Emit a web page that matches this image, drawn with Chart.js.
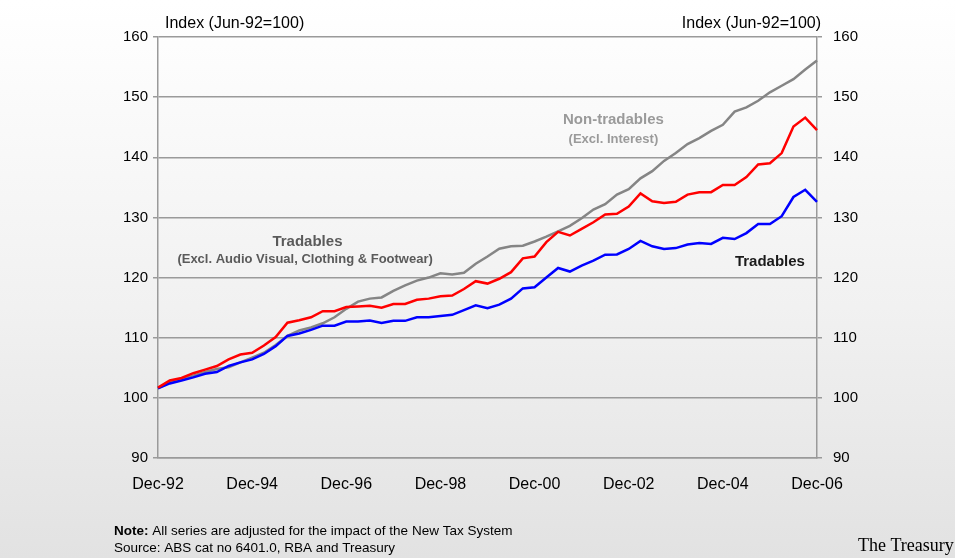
<!DOCTYPE html>
<html>
<head>
<meta charset="utf-8">
<script src="https://cdn.jsdelivr.net/npm/chart.js@4.4.0/dist/chart.umd.min.js"></script>
<style>
  html, body { margin: 0; padding: 0; }
  body {
    width: 955px; height: 558px; overflow: hidden;
    background: linear-gradient(to bottom, #ffffff 0%, #f1f1f1 55%, #e2e2e2 100%);
  }
  canvas { display: block; }
</style>
</head>
<body>
<canvas id="myChart" width="955" height="558"></canvas>
<script>
// data, quarterly, Dec-92 to Dec-06
const quarters = [];
const years = ["92", "93", "94", "95", "96", "97", "98", "99", "00", "01", "02", "03", "04", "05", "06"];
const months = ["Mar", "Jun", "Sep", "Dec"];
quarters.push("Dec-92");
for (let y = 1; y < years.length; y++) {
     for (let m = 0; m < months.length; m++) {
          quarters.push(months[m] + "-" + years[y]);
     }
}

const tradablesExcl = [
     101.7, 102.9, 103.3, 104.1, 104.7, 105.3, 106.4, 107.2, 107.5, 108.7,
     110.1, 112.5, 112.9, 113.4, 114.4, 114.4, 115.1, 115.2, 115.3, 115.0,
     115.6, 115.6, 116.3, 116.5, 116.9, 117.0, 118.1, 119.4, 119.0, 119.8,
     120.9, 123.2, 123.5, 125.9, 127.6, 127.0, 128.1, 129.2, 130.5, 130.6,
     131.8, 134.0, 132.7, 132.4, 132.6, 133.8, 134.2, 134.2, 135.4, 135.4,
     136.7, 138.8, 139.0, 140.7, 145.1, 146.6, 144.5
];
const tradables = [
     101.6, 102.4, 102.9, 103.4, 104.0, 104.3, 105.3, 105.9, 106.4, 107.3,
     108.6, 110.3, 110.7, 111.3, 112.0, 112.0, 112.7, 112.7, 112.85, 112.45,
     112.8, 112.8, 113.4, 113.4, 113.6, 113.8, 114.6, 115.4, 114.9, 115.5,
     116.5, 118.2, 118.4, 120.0, 121.6, 121.0, 122.0, 122.8, 123.8, 123.85,
     124.75, 126.1, 125.2, 124.75, 124.9, 125.5, 125.75, 125.6, 126.6, 126.4,
     127.4, 128.9, 128.9, 130.2, 133.4, 134.6, 132.6
];
const nonTradables = [
     101.6, 102.6, 103.1, 103.7, 104.3, 104.8, 105.1, 105.9, 106.7, 107.5,
     108.8, 110.3, 111.2, 111.7, 112.4, 113.4, 114.8, 116.0, 116.5, 116.7,
     117.8, 118.7, 119.5, 120.0, 120.7, 120.5, 120.8, 122.3, 123.5, 124.8,
     125.2, 125.3, 126.0, 126.8, 127.7, 128.6, 129.85, 131.3, 132.2, 133.8,
     134.7, 136.5, 137.7, 139.4, 140.7, 142.2, 143.2, 144.4, 145.4, 147.6,
     148.3, 149.4, 150.8, 151.9, 153.0, 154.6, 156.1
];

const yMin = 90;
const yMax = 160;
const yStep = 10;
const axisTitle = "Index (Jun-92=100)";

const gridColor = "#9a9a9a";

// text drawn on the chart
const textPlugin = {
     id: "chartText",
     afterDraw(chart) {
          const ctx = chart.ctx;
          const area = chart.chartArea;
          const xs = chart.scales.x;
          const ys = chart.scales.y;
          ctx.save();
          ctx.textBaseline = "middle";

          ctx.font = "16px 'Liberation Sans', Arial, sans-serif";
          ctx.fillStyle = "#000";
          ctx.textAlign = "left";
          ctx.fillText(axisTitle, area.left + 7, 24);
          ctx.textAlign = "right";
          ctx.fillText(axisTitle, area.right + 4, 24);

          ctx.textAlign = "center";
          ctx.fillStyle = "#9a9a9a";
          ctx.font = "bold 15px 'Liberation Sans', Arial, sans-serif";
          ctx.fillText("Non-tradables", xs.getPixelForValue(38.7), ys.getPixelForValue(146.2));
          ctx.font = "bold 13px 'Liberation Sans', Arial, sans-serif";
          ctx.fillText("(Excl. Interest)", xs.getPixelForValue(38.7), ys.getPixelForValue(143.0));

          ctx.fillStyle = "#5a5a5a";
          ctx.font = "bold 15px 'Liberation Sans', Arial, sans-serif";
          ctx.fillText("Tradables", xs.getPixelForValue(12.7), ys.getPixelForValue(126.0));
          ctx.font = "bold 13px 'Liberation Sans', Arial, sans-serif";
          ctx.fillText("(Excl. Audio Visual, Clothing & Footwear)", xs.getPixelForValue(12.5), ys.getPixelForValue(123.0));

          ctx.fillStyle = "#1a1a1a";
          ctx.font = "bold 15px 'Liberation Sans', Arial, sans-serif";
          ctx.fillText("Tradables", xs.getPixelForValue(52.0), ys.getPixelForValue(122.6));

          // footnotes
          ctx.textAlign = "left";
          ctx.fillStyle = "#000";
          ctx.font = "bold 13.5px 'Liberation Sans', Arial, sans-serif";
          ctx.fillText("Note:", 114, 531);
          let w = ctx.measureText("Note: ").width;
          ctx.font = "13.5px 'Liberation Sans', Arial, sans-serif";
          ctx.fillText("All series are adjusted for the impact of the New Tax System", 114 + w, 531);
          ctx.fillText("Source: ABS cat no 6401.0, RBA and Treasury", 114, 548);

          ctx.font = "18px 'Liberation Serif', 'Times New Roman', serif";
          ctx.fillText("The Treasury", 858, 546);
          ctx.restore();
     }
};

const ctx = document.getElementById("myChart").getContext("2d");

function lineSet(label, data, color) {
     return {
          label: label,
          data: data,
          borderColor: color,
          backgroundColor: color,
          borderWidth: 2.5,
          pointRadius: 0,
          tension: 0,
          fill: false
     };
}

const tickFont = { family: "'Liberation Sans', Arial, sans-serif", size: 15 };

var chart = new Chart(ctx, {
     type: "line",
     data: {
          labels: quarters,
          datasets: [
               lineSet("Tradables (Excl. Audio Visual, Clothing & Footwear)", tradablesExcl, "#ff0000"),
               lineSet("Tradables", tradables, "#0000ff"),
               lineSet("Non-tradables (Excl. Interest)", nonTradables, "#858585")
          ]
     },
     options: {
          responsive: false,
          animation: false,
          layout: { padding: { top: 37, left: 0, right: 0, bottom: 0 } },
          plugins: {
               legend: { display: false },
               tooltip: { enabled: false }
          },
          scales: {
               x: {
                    type: "category",
                    offset: false,
                    grid: { display: false, drawTicks: false },
                    border: { display: true, color: gridColor, width: 1.5 },
                    ticks: {
                         autoSkip: false,
                         maxRotation: 0,
                         padding: 17,
                         color: "#000",
                         font: { family: "'Liberation Sans', Arial, sans-serif", size: 16 },
                         callback: function (val, index) {
                              return index % 8 === 0 ? quarters[index] : null;
                         }
                    },
                    afterFit: function (scale) { scale.height = 100; }
               },
               y: {
                    position: "left",
                    min: yMin,
                    max: yMax,
                    grid: { color: gridColor, lineWidth: 1.5, tickLength: 5 },
                    border: { display: true, color: gridColor, width: 1.5 },
                    ticks: { stepSize: yStep, padding: 5, color: "#000", font: tickFont },
                    afterFit: function (scale) { scale.width = 158; }
               },
               y2: {
                    position: "right",
                    min: yMin,
                    max: yMax,
                    grid: { drawOnChartArea: false, color: gridColor, lineWidth: 1.5, tickLength: 5 },
                    border: { display: true, color: gridColor, width: 1.5 },
                    ticks: { stepSize: yStep, padding: 11, color: "#000", font: tickFont },
                    afterFit: function (scale) { scale.width = 138; }
               }
          }
     },
     plugins: [textPlugin]
});
</script>
</body>
</html>
